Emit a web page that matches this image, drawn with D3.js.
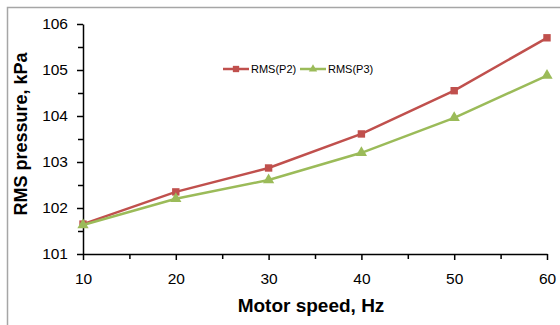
<!DOCTYPE html>
<html>
<head>
<meta charset="utf-8">
<script src="https://cdn.jsdelivr.net/npm/d3@7"></script>
<style>
	body { margin: 0; background: #fff; }
	svg text { font-family: Arial, "Liberation Sans", sans-serif; }
</style>
</head>
<body>
<div id="chart"></div>
<script>
var speeds = [10, 20, 30, 40, 50, 60];
var rms_p2 = [101.65, 102.35, 102.87, 103.61, 104.55, 105.70];
var rms_p3 = [101.63, 102.20, 102.61, 103.20, 103.96, 104.88];
var x_ticks = [10, 20, 30, 40, 50, 60];
var y_ticks = [101, 102, 103, 104, 105, 106];

var width = 560,
	height = 325;

var svg = d3.select("#chart").append("svg")
	.attr("width", width)
	.attr("height", height);

// outer frame (right and bottom edges fall outside the picture)
svg.append("path")
	.attr("d", "M7.5,325 V7.5 H560")
	.style("fill", "none")
	.style("stroke", "#a6a6a6")
	.style("stroke-width", 1.5);

var x = d3.scaleLinear().domain([10, 60]).range([83, 547]);
var y = d3.scaleLinear().domain([101, 106]).range([254, 24]);

// minor ticks at the half steps
var x_minor = d3.range(15, 60, 10);
var y_minor = d3.range(101.5, 106, 1);

svg.append("g")
	.attr("transform", "translate(0," + y(101) + ")")
	.call(d3.axisBottom(x).tickValues(x_minor).tickSize(5).tickFormat(""))
	.call(function(g) { g.select(".domain").remove(); });

svg.append("g")
	.attr("transform", "translate(" + x(10) + ",0)")
	.call(d3.axisLeft(y).tickValues(y_minor).tickSize(5).tickFormat(""))
	.call(function(g) { g.select(".domain").remove(); });

var xAxis = svg.append("g")
	.attr("transform", "translate(0," + y(101) + ")")
	.call(d3.axisBottom(x).tickValues(x_ticks).tickSize(6).tickSizeOuter(0).tickPadding(13).tickFormat(d3.format("d")));

var yAxis = svg.append("g")
	.attr("transform", "translate(" + x(10) + ",0)")
	.call(d3.axisLeft(y).tickValues(y_ticks).tickSize(6).tickSizeOuter(0).tickPadding(9).tickFormat(d3.format("d")));

svg.selectAll(".domain, .tick line")
	.style("stroke", "#000")
	.style("stroke-width", 1.5);
svg.selectAll(".tick text")
	.style("font-size", "15.5px")
	.style("fill", "#000");

// axis titles
svg.append("text")
	.attr("x", 311)
	.attr("y", 312)
	.attr("text-anchor", "middle")
	.style("font-size", "19px")
	.style("font-weight", "bold")
	.text("Motor speed, Hz");

svg.append("text")
	.attr("transform", "translate(27,134) rotate(-90)")
	.attr("text-anchor", "middle")
	.style("font-size", "18px")
	.style("font-weight", "bold")
	.text("RMS pressure, kPa");

var series = [
	{ name: "RMS(P2)", values: rms_p2, color: "#c0504d", marker: d3.symbolSquare },
	{ name: "RMS(P3)", values: rms_p3, color: "#9bbb59", marker: d3.symbolTriangle }
];

var line = d3.line()
	.x(function(d, i) { return x(speeds[i]); })
	.y(function(d) { return y(d); });

series.forEach(function(s) {
	svg.append("path")
		.datum(s.values)
		.attr("d", line)
		.style("fill", "none")
		.style("stroke", s.color)
		.style("stroke-width", 2.5);

	svg.selectAll(null)
		.data(s.values)
		.enter()
			.append("path")
			.attr("transform", function(d, i) { return "translate(" + x(speeds[i]) + "," + y(d) + ")"; })
			.attr("d", d3.symbol().type(s.marker).size(55))
			.style("fill", s.color);
});

// legend
var legend_x = [223, 300];
series.forEach(function(s, i) {
	var g = svg.append("g").attr("transform", "translate(" + legend_x[i] + ",69)");
	g.append("line")
		.attr("x1", 0).attr("x2", 26)
		.style("stroke", s.color)
		.style("stroke-width", 2.5);
	g.append("path")
		.attr("transform", "translate(13,0)")
		.attr("d", d3.symbol().type(s.marker).size(i == 0 ? 40 : 30))
		.style("fill", s.color);
	g.append("text")
		.attr("x", 28)
		.attr("y", 4)
		.style("font-size", "11px")
		.style("fill", "#000")
		.text(s.name);
});
</script>
</body>
</html>
